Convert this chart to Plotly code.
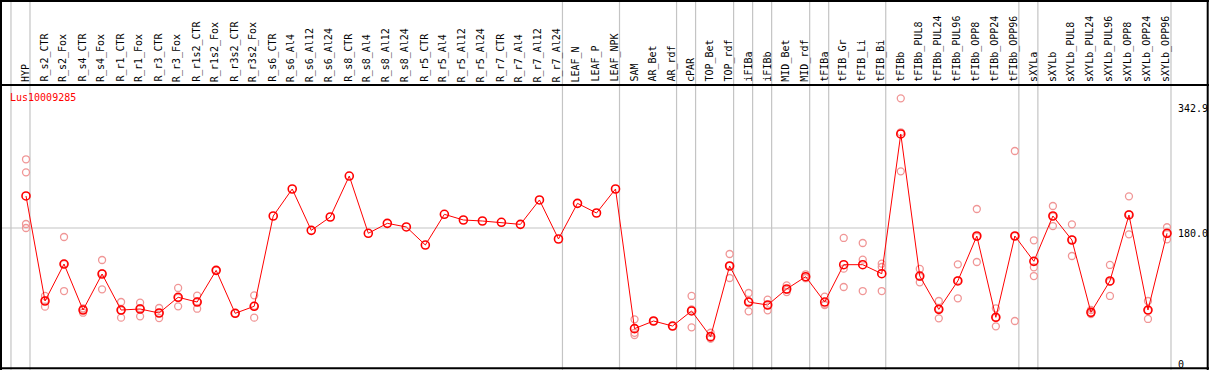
import plotly.graph_objects as go

categories = ["HYP", "R_s2_CTR", "R_s2_Fox", "R_s4_CTR", "R_s4_Fox", "R_r1_CTR", "R_r1_Fox",
              "R_r3_CTR", "R_r3_Fox", "R_r1s2_CTR", "R_r1s2_Fox", "R_r3s2_CTR", "R_r3s2_Fox",
              "R_s6_CTR", "R_s6_Al4", "R_s6_Al12", "R_s6_Al24", "R_s8_CTR", "R_s8_Al4", "R_s8_Al12",
              "R_s8_Al24", "R_r5_CTR", "R_r5_Al4", "R_r5_Al12", "R_r5_Al24", "R_r7_CTR", "R_r7_Al4",
              "R_r7_Al12", "R_r7_Al24", "LEAF_N", "LEAF_P", "LEAF_NPK", "SAM", "AR_Bet", "AR_rdf",
              "cPAR", "TOP_Bet", "TOP_rdf", "iFIBa", "iFIBb", "MID_Bet", "MID_rdf", "tFIBa",
              "tFIB_Gr", "tFIB_Li", "tFIB_Bi", "tFIBb", "tFIBb_PUL8", "tFIBb_PUL24", "tFIBb_PUL96",
              "tFIBb_OPP8", "tFIBb_OPP24", "tFIBb_OPP96", "sXYLa", "sXYLb", "sXYLb_PUL8",
              "sXYLb_PUL24", "sXYLb_PUL96", "sXYLb_OPP8", "sXYLb_OPP24", "sXYLb_OPP96"]

means = [224, 79.7, 130.5, 67.3, 116.8, 67.3, 68.7, 63.2, 84.8, 78.3, 121.8, 62.8, 72.4,
         196.5, 233.6, 176.8, 195.1, 251.4, 172.7, 186.4, 181.4, 156.6, 198.8, 191.0, 189.6,
         187.8, 185.0, 218.5, 164.9, 213.9, 200.6, 233.6, 41.7, 52.2, 45.3,
         66.0, 30.7, 127.8, 78.3, 74.2, 96.2, 113.1, 78.3,
         129.6, 129.6, 117.2, 309.2, 114.0, 68.2, 107.2,
         169.0, 57.3, 169.0, 134.2, 196.5, 163.5,
         64.1, 107.2, 197.9, 67.3, 172.7]

replicates = [[274.4, 256.5, 185.5, 180.0], [86.6, 71.9, 80.6], [167.6, 93.4, 130.5],
              [69.6, 63.6, 68.0], [136.0, 95.7, 118.0], [78.3, 56.8, 67.0], [77.4, 58.6, 70.0],
              [70.1, 56.3, 63.0], [97.6, 72.4, 84.0], [87.0, 69.1, 79.0], [121.8], [62.8],
              [87.5, 56.8, 73.0],
              [], [], [], [], [], [], [], [], [], [], [], [], [], [], [], [], [], [], [],
              [54.5, 36.0, 33.0], [52.2], [45.3],
              [86.6, 43.5, 68.0], [36.1, 28.4, 28.0], [144.3, 111.3, 128.0], [90.7, 65.5, 79.0],
              [81.5, 66.9, 74.0], [101.2, 92.0, 95.0], [116.4, 111.7, 111.0], [85.6, 74.2, 75.0],
              [166.3, 98.9, 124.1], [159.4, 136.5, 93.4], [131.0, 126.4, 93.4],
              [358.2, 257.9, 311.5], [123.7, 105.3, 113.0], [79.7, 55.9, 69.0], [130.1, 83.4, 108.0],
              [206.1, 133.3, 168.0], [69.6, 44.9, 57.0], [285.8, 52.2, 169.0],
              [163.1, 126.0, 114.0], [210.2, 182.7, 196.0], [185.0, 141.5, 164.0],
              [67.3, 61.8, 63.0], [129.2, 86.6, 106.0], [223.5, 171.3, 199.0],
              [79.7, 55.0, 67.0], [181.0, 164.5, 172.0]]

group_ends = [-1, 0, 28, 31, 34, 35, 37, 38, 39, 41, 42, 45, 52, 53, 60]
y_tick_vals = [0, 180.0]
y_tick_text = ["0", "180.0"]
y_max_label = "342.9"
title = "Lus10009285"

W, H = 1209, 370
n = len(categories)
idx = list(range(n))

fig = go.Figure()

# replicate points
rx, ry = [], []
for i, reps in enumerate(replicates):
    for v in reps:
        rx.append(i)
        ry.append(v)
fig.add_trace(go.Scatter(
    x=rx, y=ry, mode="markers", hoverinfo="skip",
    marker=dict(symbol="circle-open", size=7, color="#f09696", line=dict(width=1.3, color="#f09696")),
))

# mean line + points
fig.add_trace(go.Scatter(
    x=idx, y=means, mode="lines+markers",
    line=dict(color="#ff0000", width=1),
    marker=dict(symbol="circle-open", size=8, color="#ff0000", line=dict(width=1.6, color="#ff0000")),
))

shapes = []
# vertical group separators
for g in group_ends:
    shapes.append(dict(type="line", xref="x", yref="paper", x0=g + 0.21, x1=g + 0.21,
                       y0=0, y1=1, line=dict(color="#c4c4c4", width=1.2), layer="below"))
# horizontal gridline at 180
shapes.append(dict(type="line", xref="paper", yref="y", x0=0, x1=1170 / W, y0=180, y1=180,
                   line=dict(color="#c4c4c4", width=1.2), layer="below"))

def px(x):
    return x / W

def py(y):
    return 1 - y / H

# borders
blk = dict(color="#000000", width=2)
shapes += [
    dict(type="line", xref="paper", yref="paper", x0=px(0), x1=px(W), y0=py(1), y1=py(1), line=blk),
    dict(type="line", xref="paper", yref="paper", x0=px(0), x1=px(W), y0=py(85), y1=py(85), line=blk),
    dict(type="line", xref="paper", yref="paper", x0=px(0), x1=px(W), y0=py(368.3), y1=py(368.3), line=blk),
    dict(type="line", xref="paper", yref="paper", x0=px(1), x1=px(1), y0=0, y1=1, line=blk),
    dict(type="line", xref="paper", yref="paper", x0=px(1207.7), x1=px(1207.7), y0=0, y1=1, line=blk),
]

annotations = []
mono = "DejaVu Sans Mono"
for i, c in enumerate(categories):
    annotations.append(dict(x=i, xref="x", y=py(83), yref="paper", text=c, showarrow=False,
                            textangle=-90, xanchor="center", yanchor="bottom", borderpad=0,
                            xshift=-1,
                            font=dict(family=mono, size=10, color="#000000")))
for v, t in zip(y_tick_vals, y_tick_text):
    annotations.append(dict(x=px(1177), xref="paper", y=v, yref="y", text=t, showarrow=False,
                            xanchor="left", yanchor="top", borderpad=0, yshift=1,
                            font=dict(family=mono, size=10, color="#000000")))
annotations.append(dict(x=px(1177), xref="paper", y=py(102), yref="paper", text=y_max_label,
                        showarrow=False, xanchor="left", yanchor="top", borderpad=0,
                        font=dict(family=mono, size=10, color="#000000")))
annotations.append(dict(x=px(9), xref="paper", y=py(91), yref="paper", text=title,
                        showarrow=False, xanchor="left", yanchor="top", borderpad=0,
                        font=dict(family=mono, size=10, color="#ff0000")))

x_scale = 1141 / 60
x0 = -26 / x_scale
x1 = x0 + W / x_scale
y_scale = 131 / 180
y1 = 359 / y_scale
y0 = y1 - H / y_scale

fig.update_layout(
    width=W, height=H, autosize=False,
    margin=dict(l=0, r=0, t=0, b=0, pad=0),
    paper_bgcolor="#ffffff", plot_bgcolor="#ffffff",
    showlegend=False,
    xaxis=dict(range=[x0, x1], visible=False, fixedrange=True),
    yaxis=dict(range=[y0, y1], visible=False, fixedrange=True),
    shapes=shapes, annotations=annotations,
)

fig.write_html("out.html", config={"displayModeBar": False},
               post_script="document.body.style.margin='0px';document.body.style.overflow='hidden';")
